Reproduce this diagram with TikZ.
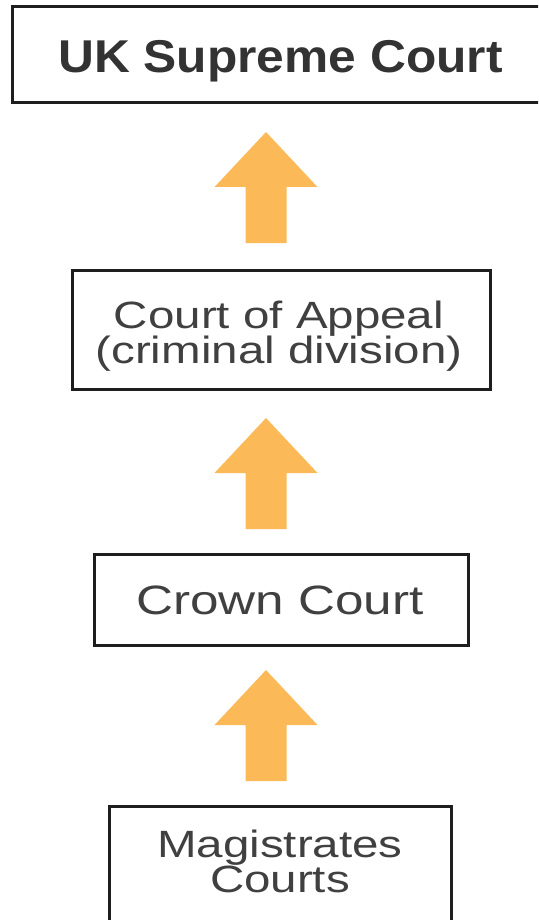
\documentclass[tikz,border=0pt]{standalone}
\usepackage{fontspec}
\newfontfamily\regfont[FakeStretch=1.25]{Liberation Sans}
\newfontfamily\bldfont[FakeStretch=1.08]{Liberation Sans Bold}
\definecolor{arrowfill}{HTML}{FBB957}
\definecolor{boxline}{HTML}{1E1E1E}
\definecolor{txtgray}{HTML}{404040}
\definecolor{txtdark}{HTML}{333333}
\tikzset{
  courtbox/.style={draw=boxline, line width=3, fill=white, rectangle, inner sep=0},
  courttext/.style={text=txtgray, font=\regfont\fontsize{38}{34}\selectfont, inner sep=0, anchor=base},
  pics/uparrow/.style={code={
    \fill[arrowfill] (0,0) -- (51.5,55) -- (20.5,55) -- (20.5,111) -- (-20.5,111) -- (-20.5,55) -- (-51.5,55) -- cycle;
  }}
}
\begin{document}
\begin{tikzpicture}[x=1pt,y=-1pt]
\useasboundingbox (0,0) rectangle (538,920);
\begin{scope}
\clip (0,0) rectangle (538,920);
% boxes
\node[courtbox, minimum width=533, minimum height=96] (supreme) at (278.5,55) {};
\node[courtbox, minimum width=418, minimum height=119] (appeal) at (281,329.5) {};
\node[courtbox, minimum width=374, minimum height=91] (crown) at (281,599.5) {};
\node[courtbox, minimum width=342, minimum height=154] (magis) at (280,883) {};
\end{scope}
% texts
\node[text=txtdark, font=\bldfont\fontsize{46}{50}\selectfont, inner sep=0, anchor=base] (supremetxt) at (280.5,73) {UK Supreme Court};
\node[courttext] (appeal1) at (279,328) {Court of Appeal};
\node[courttext] (appeal2) at (279,363) {(criminal division)};
\node[courttext, font=\regfont\fontsize{41}{40}\selectfont] (crowntxt) at (280,614) {Crown Court};
\node[courttext] (magis1) at (280,857) {Magistrates};
\node[courttext] (magis2) at (280,892) {Courts};
% arrows between boxes
\pic at (266,132) {uparrow};
\pic at (266,418) {uparrow};
\pic at (266,670) {uparrow};
\end{tikzpicture}
\end{document}
